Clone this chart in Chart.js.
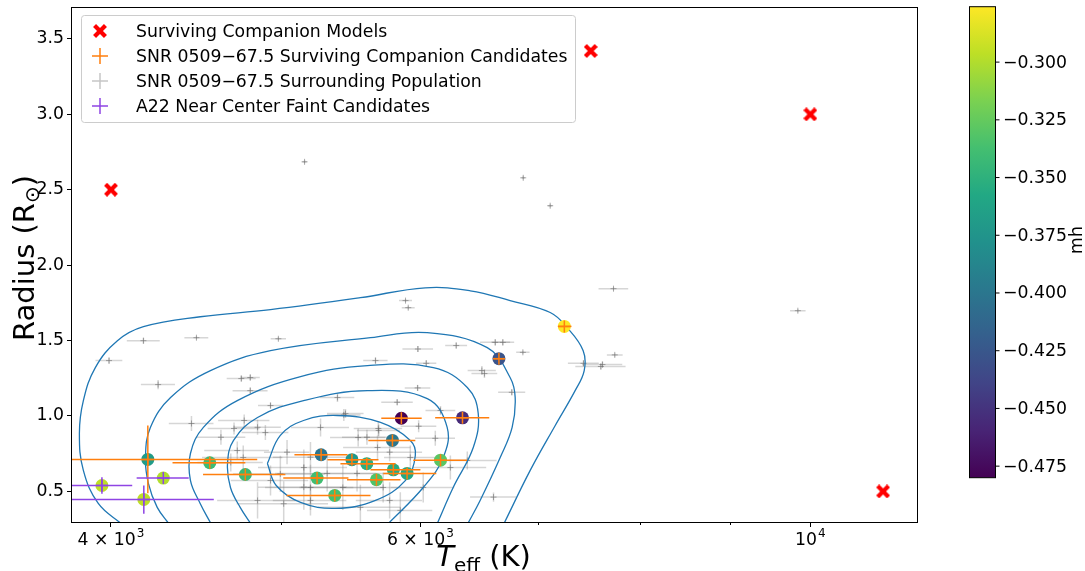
<!DOCTYPE html>
<html>
<head>
<meta charset="utf-8">
<script src="https://cdn.jsdelivr.net/npm/chart.js@4.4.0/dist/chart.umd.min.js"></script>
<style>
  html, body { margin: 0; padding: 0; background: #fff; }
  #wrap { width: 1085px; height: 571px; position: relative; }
</style>
</head>
<body>
<div id="wrap"><canvas id="chart"></canvas></div>
<script>
// surviving companion models
const modelTeff = [4000, 7500, 10000, 11000];
const modelR = [2.50, 3.42, 3.00, 0.50];

// SNR 0509-67.5 surviving companion candidates
const candTeff   = [4198, 4553, 4770, 5268, 5485, 5593, 5240, 5363, 5664, 5791, 5896, 6160, 5784, 5852, 6340, 6650, 7245];
const candR      = [0.712, 0.690, 0.612, 0.743, 0.710, 0.684, 0.588, 0.473, 0.577, 0.643, 0.619, 0.707, 0.838, 0.985, 0.988, 1.380, 1.594];
const candTeffLo = [3700, 4336, 4513, 5087, 5312, 5403, 5013, 5034, 5450, 5620, 5715, 5944, 5604, 5700, 6117, 6605, 7184];
const candTeffHi = [4845, 4770, 5027, 5453, 5679, 5807, 5460, 5620, 5845, 6000, 6126, 6377, 5960, 6010, 6566, 6700, 7313];
const candRLo    = [0.487, 0.690, 0.612, 0.743, 0.710, 0.684, 0.588, 0.473, 0.577, 0.643, 0.619, 0.707, 0.838, 0.985, 0.988, 1.380, 1.594];
const candRHi    = [0.937, 0.690, 0.612, 0.743, 0.710, 0.684, 0.588, 0.473, 0.577, 0.643, 0.619, 0.707, 0.838, 0.985, 0.988, 1.380, 1.594];
const candMh     = [-0.368, -0.341, -0.343, -0.402, -0.372, -0.352, -0.339, -0.338, -0.333, -0.354, -0.358, -0.329, -0.400, -0.480, -0.455, -0.427, -0.276];

// A22 near center faint candidates
const a22Teff   = [3953, 4176, 4284];
const a22R      = [0.539, 0.447, 0.588];
const a22TeffLo = [3700, 3700, 4137];
const a22TeffHi = [4113, 4577, 4429];
const a22RLo    = [0.484, 0.352, 0.588];
const a22RHi    = [0.594, 0.539, 0.588];
const a22Mh     = [-0.296, -0.296, -0.300];

// surrounding population
const grTeff = [5155, 6865, 7112, 9838, 7727, 3990, 4174, 4474, 4981, 4255,
  4745, 4801, 4801, 4930, 5382, 5439, 4763, 4700, 4445, 4897,
  5884, 5905, 5980, 6046, 6288, 6618, 6684, 6862, 6503, 6525,
  5657, 5978, 5820, 6763, 6160, 5986, 5427, 5681, 5594, 6118,
  5763, 6603, 7429, 7740, 7616, 7600, 5038, 5195, 4994, 4930,
  5150, 4847, 5016, 5195, 4720, 4757, 4680, 4620, 4847, 5150,
  5195, 5310, 5420, 5522, 5714, 5763, 5921, 6022, 5844, 5546,
  5672, 5264, 5530, 5678, 6240, 6380];
const grR = [2.685, 2.579, 2.394, 1.698, 1.844, 1.367, 1.499, 1.519, 1.512, 1.208,
  1.248, 1.255, 1.168, 1.069, 1.122, 1.016, 0.970, 0.917, 0.950, 0.890,
  1.765, 1.718, 1.444, 1.349, 1.467, 1.488, 1.488, 1.422, 1.301, 1.281,
  1.367, 1.186, 1.091, 1.157, 1.036, 0.932, 1.007, 0.904, 0.859, 0.852,
  0.760, 0.462, 1.349, 1.405, 1.341, 1.328, 0.760, 0.727, 0.616, 0.572,
  0.528, 0.440, 0.418, 0.440, 0.771, 0.725, 0.692, 0.859, 0.925, 0.658,
  0.526, 0.619, 0.526, 0.619, 0.526, 0.440, 0.725, 0.526, 0.374, 0.394,
  0.791, 0.924, 0.857, 0.917, 0.658, 0.705];
const grTeffErr = [15, 15, 20, 100, 150, 70, 90, 70, 50, 95,
  90, 60, 110, 80, 120, 130, 160, 160, 130, 150,
  50, 50, 120, 80, 90, 130, 100, 60, 120, 110,
  90, 100, 120, 120, 120, 140, 120, 160, 180, 160,
  250, 200, 150, 80, 200, 250, 150, 250, 300, 250,
  300, 250, 300, 250, 200, 250, 200, 150, 150, 300,
  300, 350, 300, 300, 300, 250, 200, 250, 250, 300,
  250, 200, 200, 180, 300, 250];
const grRErr = [0.01, 0.01, 0.01, 0.01, 0.01, 0.02, 0.02, 0.01, 0.01, 0.03,
  0.02, 0.02, 0.02, 0.02, 0.03, 0.03, 0.04, 0.04, 0.05, 0.05,
  0.01, 0.01, 0.02, 0.02, 0.02, 0.02, 0.02, 0.01, 0.03, 0.03,
  0.02, 0.02, 0.02, 0.02, 0.03, 0.04, 0.04, 0.04, 0.05, 0.05,
  0.06, 0.03, 0.02, 0.01, 0.02, 0.02, 0.08, 0.10, 0.12, 0.10,
  0.15, 0.12, 0.15, 0.10, 0.06, 0.08, 0.06, 0.05, 0.05, 0.12,
  0.15, 0.12, 0.15, 0.12, 0.10, 0.12, 0.08, 0.10, 0.12, 0.15,
  0.08, 0.06, 0.06, 0.05, 0.08, 0.06];

// density contours of the surrounding population [Teff, R]
const contour1 = [[4060, 0.28], [3934, 0.420], [3858, 0.639], [3838, 0.884], [3858, 1.102], [3919, 1.321], [4034, 1.499], [4174, 1.592], [4497, 1.658], [4930, 1.705], [5546, 1.784], [6038, 1.850], [6405, 1.830], [6748, 1.765], [7112, 1.686], [7271, 1.586], [7426, 1.433], [7436, 1.301], [7348, 1.168], [7159, 0.937], [6928, 0.639], [6690, 0.28]];
const contour2 = [[4319, 0.28], [4250, 0.394], [4201, 0.553], [4185, 0.725], [4212, 0.924], [4325, 1.122], [4557, 1.301], [4930, 1.433], [5620, 1.519], [6054, 1.552], [6549, 1.453], [6748, 1.255], [6793, 1.122], [6766, 0.924], [6661, 0.725], [6488, 0.440], [6380, 0.28]];
const contour3 = [[4563, 0.28], [4496, 0.420], [4439, 0.573], [4439, 0.751], [4515, 0.924], [4720, 1.102], [5128, 1.261], [5598, 1.334], [6102, 1.321], [6380, 1.189], [6472, 1.016], [6430, 0.791], [6263, 0.526], [6130, 0.28]];
const contour4 = [[4808, 0.28], [4738, 0.394], [4678, 0.526], [4660, 0.685], [4697, 0.838], [4847, 0.990], [5148, 1.102], [5598, 1.168], [6054, 1.115], [6214, 0.924], [6182, 0.725], [6022, 0.526], [5745, 0.28]];
const contour5 = [[4910, 0.685], [4994, 0.871], [5148, 0.970], [5382, 1.003], [5694, 0.957], [5921, 0.838], [5960, 0.738], [5884, 0.573], [5657, 0.440], [5368, 0.387], [5128, 0.427], [4967, 0.539], [4910, 0.685]];

// axes
const xMajorTicks = [4000, 6000, 10000];
const xMajorLabels = [['4 \u00d7 10', '3'], ['6 \u00d7 10', '3'], ['10', '4']];
const xMinorTicks = [5000, 7000, 8000, 9000];
const yTicks = [0.5, 1.0, 1.5, 2.0, 2.5, 3.0, 3.5];
const cbTicks = [-0.300, -0.325, -0.350, -0.375, -0.400, -0.425, -0.450, -0.475];

const legendLabels = [
  'Surviving Companion Models',
  'SNR 0509\u221267.5 Surviving Companion Candidates',
  'SNR 0509\u221267.5 Surrounding Population',
  'A22 Near Center Faint Candidates'
];

const FONT = '"DejaVu Sans"';
const ORANGE = '#ff7f0e';
const PURPLE = '#8f44e4';
const GREY_BAR = 'rgba(128,128,128,0.32)';
const GREY_MARK = 'rgba(100,100,100,0.55)';

const viridisStops = ['#440154', '#482475', '#414487', '#355f8d', '#2a788e', '#21918c', '#22a884', '#44bf70', '#7ad151', '#bddf26', '#fde725'];

function hexToRgb(h) {
  const n = parseInt(h.slice(1), 16);
  return [(n >> 16) & 255, (n >> 8) & 255, n & 255];
}

function viridis(t) {
  t = Math.min(1, Math.max(0, t));
  const s = t * 10;
  const i = Math.min(9, Math.floor(s));
  const f = s - i;
  const a = hexToRgb(viridisStops[i]), b = hexToRgb(viridisStops[i + 1]);
  const c = a.map((v, k) => Math.round(v + (b[k] - v) * f));
  return `rgb(${c[0]},${c[1]},${c[2]})`;
}

const mhAll = candMh.concat(a22Mh);
const mhMin = Math.min(...mhAll);
const mhMax = Math.max(...mhAll);
function mhColor(v) { return viridis((v - mhMin) / (mhMax - mhMin)); }

// filled "X" marker like matplotlib's
function makeXMarker(size, color) {
  const c = document.createElement('canvas');
  c.width = size; c.height = size;
  const g = c.getContext('2d');
  g.translate(size / 2, size / 2);
  g.rotate(Math.PI / 4);
  g.fillStyle = color;
  const L = size * 0.55, W = size * 0.15;
  g.fillRect(-L, -W, 2 * L, 2 * W);
  g.fillRect(-W, -L, 2 * W, 2 * L);
  return c;
}
const redX = makeXMarker(14, '#ff0000');

function pts(xs, ys) { return xs.map((x, i) => ({ x: x, y: ys[i] })); }

// error bars drawn before the markers of a dataset
const errorBarPlugin = {
  id: 'errorBars',
  beforeDatasetDraw(chart, args) {
    const ds = chart.data.datasets[args.index];
    if (!ds.errBars) return;
    const eb = ds.errBars;
    const xs = chart.scales.x, ys = chart.scales.y;
    const area = chart.chartArea;
    const ctx = chart.ctx;
    ctx.save();
    ctx.beginPath();
    ctx.rect(area.left, area.top, area.right - area.left, area.bottom - area.top);
    ctx.clip();
    ctx.strokeStyle = eb.color;
    ctx.lineWidth = eb.width;
    for (let i = 0; i < eb.teff.length; i++) {
      const px = xs.getPixelForValue(eb.teff[i]);
      const py = ys.getPixelForValue(eb.r[i]);
      ctx.beginPath();
      ctx.moveTo(xs.getPixelForValue(eb.tLo[i]), py);
      ctx.lineTo(xs.getPixelForValue(eb.tHi[i]), py);
      if (eb.rHi[i] !== eb.rLo[i]) {
        ctx.moveTo(px, ys.getPixelForValue(eb.rLo[i]));
        ctx.lineTo(px, ys.getPixelForValue(eb.rHi[i]));
      }
      ctx.stroke();
    }
    ctx.restore();
  }
};

// spines, minor ticks, tick labels with superscripts, titles, legend, colorbar
const decorPlugin = {
  id: 'decor',
  afterDraw(chart) {
    const ctx = chart.ctx;
    const a = chart.chartArea;
    const xs = chart.scales.x;
    ctx.save();

    // spines
    ctx.strokeStyle = '#000';
    ctx.lineWidth = 1;
    ctx.strokeRect(Math.round(a.left) - 0.5, Math.round(a.top) - 0.5, Math.round(a.right - a.left) + 1, Math.round(a.bottom - a.top) + 1);

    // minor x ticks
    ctx.beginPath();
    xMinorTicks.forEach(v => {
      const x = Math.round(xs.getPixelForValue(v)) + 0.5;
      ctx.moveTo(x, a.bottom);
      ctx.lineTo(x, a.bottom + 3);
    });
    ctx.stroke();

    // x tick labels
    ctx.fillStyle = '#000';
    ctx.textBaseline = 'alphabetic';
    ctx.textAlign = 'left';
    xMajorTicks.forEach((v, i) => {
      const x = xs.getPixelForValue(v);
      const [base, sup] = xMajorLabels[i];
      ctx.font = `17.3px ${FONT}`;
      const wb = ctx.measureText(base).width;
      ctx.font = `12px ${FONT}`;
      const ws = ctx.measureText(sup).width;
      const x0 = x - (wb + ws + 1) / 2;
      ctx.font = `17.3px ${FONT}`;
      ctx.fillText(base, x0, 545);
      ctx.font = `12px ${FONT}`;
      ctx.fillText(sup, x0 + wb + 1, 537);
    });

    // x title: T_eff (K)
    ctx.font = `italic 29px ${FONT}`;
    const wT = ctx.measureText('T').width;
    ctx.font = `20px ${FONT}`;
    const wE = ctx.measureText('eff').width;
    ctx.font = `29px ${FONT}`;
    const wK = ctx.measureText(' (K)').width;
    let tx = (a.left + a.right) / 2 - 11 - (wT + wE + wK) / 2;
    ctx.font = `italic 29px ${FONT}`;
    ctx.fillText('T', tx, 566);
    ctx.font = `20px ${FONT}`;
    ctx.fillText('eff', tx + wT, 572);
    ctx.font = `29px ${FONT}`;
    ctx.fillText(' (K)', tx + wT + wE, 566);

    // y title: Radius (R_sun)
    ctx.save();
    ctx.translate(33.5, 258);
    ctx.rotate(-Math.PI / 2);
    ctx.font = `29px ${FONT}`;
    const wR = ctx.measureText('Radius (R').width;
    const wP = ctx.measureText(')').width;
    ctx.font = `20px ${FONT}`;
    const wO = ctx.measureText('\u2299').width;
    let ty = -(wR + wO + wP) / 2;
    ctx.font = `29px ${FONT}`;
    ctx.fillText('Radius (R', ty, 0);
    ctx.font = `20px ${FONT}`;
    ctx.fillText('\u2299', ty + wR, 5);
    ctx.font = `29px ${FONT}`;
    ctx.fillText(')', ty + wR + wO, 0);
    ctx.restore();

    // legend
    ctx.fillStyle = 'rgba(255,255,255,0.85)';
    ctx.strokeStyle = '#cccccc';
    ctx.lineWidth = 1;
    ctx.beginPath();
    ctx.roundRect(81.5, 15.5, 494, 107, 3);
    ctx.fill();
    ctx.stroke();
    const ly = [31, 56, 81, 106];
    ctx.drawImage(redX, 100 - 7, ly[0] - 7);
    const plusCols = [ORANGE, 'rgba(128,128,128,0.45)', PURPLE];
    plusCols.forEach((c, i) => {
      const y = ly[i + 1];
      ctx.strokeStyle = c;
      ctx.lineWidth = 1.5;
      ctx.beginPath();
      ctx.moveTo(92, y); ctx.lineTo(108, y);
      ctx.moveTo(100, y - 8); ctx.lineTo(100, y + 8);
      ctx.stroke();
    });
    ctx.fillStyle = '#000';
    ctx.font = `17.3px ${FONT}`;
    legendLabels.forEach((t, i) => ctx.fillText(t, 136, ly[i] + 6));

    // colorbar
    const cbL = 969.5, cbR = 995.5, cbT = 6.7, cbB = 477.7;
    const grad = ctx.createLinearGradient(0, cbB, 0, cbT);
    viridisStops.forEach((c, i) => grad.addColorStop(i / (viridisStops.length - 1), c));
    ctx.fillStyle = grad;
    ctx.fillRect(cbL, cbT, cbR - cbL, cbB - cbT);
    ctx.strokeStyle = '#000';
    ctx.lineWidth = 1;
    ctx.strokeRect(cbL, cbT, cbR - cbL, cbB - cbT);
    ctx.fillStyle = '#000';
    ctx.font = `17.3px ${FONT}`;
    ctx.textBaseline = 'middle';
    ctx.beginPath();
    cbTicks.forEach(v => {
      const y = cbT + (mhMax - v) / (mhMax - mhMin) * (cbB - cbT);
      ctx.moveTo(cbR, y); ctx.lineTo(cbR + 4, y);
      ctx.fillText('\u2212' + Math.abs(v).toFixed(3), 1003, y + 1);
    });
    ctx.stroke();
    ctx.save();
    ctx.translate(1082, 240);
    ctx.rotate(-Math.PI / 2);
    ctx.textAlign = 'center';
    ctx.textBaseline = 'alphabetic';
    ctx.fillText('mh', 0, 0);
    ctx.restore();

    ctx.restore();
  }
};

const contourSets = [contour1, contour2, contour3, contour4, contour5].map(c => ({
  data: c.map(p => ({ x: p[0], y: p[1] })),
  showLine: true,
  pointRadius: 0,
  borderColor: '#1f77b4',
  borderWidth: 1.3,
  tension: 0.4,
  fill: false
}));

const datasets = [
  {
    data: pts(grTeff, grR),
    pointStyle: 'cross',
    pointRadius: 3,
    pointBorderColor: GREY_MARK,
    pointBorderWidth: 1,
    errBars: {
      teff: grTeff, r: grR,
      tLo: grTeff.map((t, i) => t - grTeffErr[i]),
      tHi: grTeff.map((t, i) => t + grTeffErr[i]),
      rLo: grR.map((r, i) => r - grRErr[i]),
      rHi: grR.map((r, i) => r + grRErr[i]),
      color: GREY_BAR, width: 1.5
    }
  },
  ...contourSets,
  {
    data: pts(candTeff, candR),
    pointStyle: 'circle',
    pointRadius: 6.5,
    pointBorderWidth: 0,
    pointBackgroundColor: candMh.map(mhColor)
  },
  {
    data: pts(a22Teff, a22R),
    pointStyle: 'circle',
    pointRadius: 6.5,
    pointBorderWidth: 0,
    pointBackgroundColor: a22Mh.map(mhColor)
  },
  {
    data: pts(candTeff, candR),
    pointStyle: 'cross',
    pointRadius: 6,
    pointBorderColor: ORANGE,
    pointBorderWidth: 1.5,
    errBars: { teff: candTeff, r: candR, tLo: candTeffLo, tHi: candTeffHi, rLo: candRLo, rHi: candRHi, color: ORANGE, width: 1.5 }
  },
  {
    data: pts(a22Teff, a22R),
    pointStyle: 'cross',
    pointRadius: 6,
    pointBorderColor: PURPLE,
    pointBorderWidth: 1.5,
    errBars: { teff: a22Teff, r: a22R, tLo: a22TeffLo, tHi: a22TeffHi, rLo: a22RLo, rHi: a22RHi, color: PURPLE, width: 1.5 }
  },
  {
    data: pts(modelTeff, modelR),
    pointStyle: redX,
    pointRadius: 7
  }
];
// first dataset in the list is drawn first
datasets.forEach((d, i) => { d.order = datasets.length - i; });

Chart.defaults.font.family = 'DejaVu Sans';
Chart.defaults.color = '#000';

new Chart(document.getElementById('chart').getContext('2d'), {
  type: 'scatter',
  data: { datasets: datasets },
  plugins: [errorBarPlugin, decorPlugin],
  options: {
    responsive: true,
    maintainAspectRatio: false,
    animation: false,
    devicePixelRatio: 1,
    events: [],
    layout: { padding: { top: 7, right: 168, bottom: 0, left: 0 } },
    elements: { line: { capBezierPoints: false } },
    plugins: { legend: { display: false }, tooltip: { enabled: false } },
    scales: {
      x: {
        type: 'logarithmic',
        min: 3801,
        max: 11500,
        afterBuildTicks: s => { s.ticks = xMajorTicks.map(v => ({ value: v })); },
        afterFit: s => { s.height = 49; s.paddingLeft = 0; s.paddingRight = 0; },
        grid: { display: true, drawOnChartArea: false, tickLength: 5, tickColor: '#000', tickWidth: 1 },
        border: { display: false },
        ticks: { autoSkip: false, maxRotation: 0, callback: () => '' }
      },
      y: {
        type: 'linear',
        min: 0.297,
        max: 3.705,
        afterBuildTicks: s => { s.ticks = yTicks.map(v => ({ value: v })); },
        afterFit: s => { s.width = 72; s.paddingTop = 0; s.paddingBottom = 0; },
        grid: { display: true, drawOnChartArea: false, tickLength: 5, tickColor: '#000', tickWidth: 1 },
        border: { display: false },
        ticks: { font: { size: 17.3 }, color: '#000', padding: 3, callback: v => Number(v).toFixed(1) }
      }
    }
  }
});
</script>
</body>
</html>
